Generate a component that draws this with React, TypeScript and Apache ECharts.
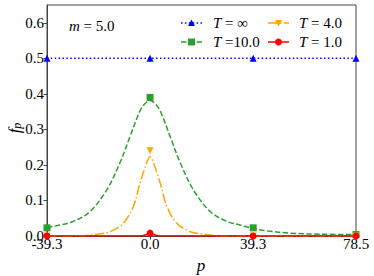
import React, { useEffect, useRef } from 'react';
import * as echarts from 'echarts';

const xTicks = [-39.3, 0, 39.3, 78.5];

const greenP = [-39.3, -38.2, -34.3, -29.3, -22.9, -16.5, -11.5, -7.6, -3.85, -2, 0, 2, 3.85, 7.6, 11.5, 16.5, 22.9, 29.3, 34.3, 39.3, 45, 53.3, 65, 78.5];
const greenF = [0.023, 0.025, 0.031, 0.041, 0.069, 0.13, 0.206, 0.281, 0.352, 0.372, 0.381, 0.372, 0.352, 0.281, 0.206, 0.13, 0.069, 0.041, 0.031, 0.021, 0.014, 0.008, 0.005, 0.004];

const orangeP = [-39.3, -30, -25, -20.4, -15.3, -10.2, -6.4, -3.85, -1.94, 0, 1.94, 3.85, 6.4, 10.2, 15.3, 20.4, 25, 30, 39.3, 78.5];
const orangeF = [0, 0, 0.001, 0.005, 0.012, 0.036, 0.083, 0.149, 0.192, 0.223, 0.192, 0.149, 0.083, 0.036, 0.012, 0.005, 0.001, 0, 0, 0];

const redP = [-39.3, -5, -3, -1.5, 0, 1.5, 3, 5, 78.5];
const redF = [0, 0, 0.001, 0.004, 0.007, 0.004, 0.001, 0, 0];

const blueP = [-39.3, 78.5];
const blueF = [0.5, 0.5];

const blueM = [0.5, 0.5, 0.5, 0.5];
const greenM = [0.023, 0.39, 0.023, 0.004];
const orangeM = [0, 0.24, 0, 0];
const redM = [0, 0.008, 0, 0];

const BLUE = '#0000ff';
const GREEN = '#2ca02c';
const ORANGE = '#ffa500';
const RED = '#ff0000';
const FONT = "'Liberation Serif', 'Times New Roman', 'DejaVu Serif', serif";
const FS = 15;

const zip = (a: number[], b: number[]) => a.map((v, i) => [v, b[i]]);

export default function App() {
  const ref = useRef<HTMLDivElement>(null);
  useEffect(() => {
    if (!ref.current) return;
    const chart = echarts.init(ref.current, undefined, { renderer: 'svg' });
    const lineSeries = (name: string, p: number[], f: number[], color: string, type: any, width = 1.5) => ({
      name,
      type: 'line',
      data: zip(p, f),
      showSymbol: false,
      symbol: 'none',
      smooth: 0.35,
      lineStyle: { color, width, type },
      silent: true,
      z: 2,
    });
    const markerSeries = (name: string, m: number[], color: string, symbol: string, size: number, rot = 0) => ({
      name,
      type: 'scatter',
      data: zip(xTicks, m),
      symbol,
      symbolSize: size,
      symbolRotate: rot,
      itemStyle: { color, opacity: 1 },
      silent: true,
      z: 3,
    });
    const legendText = (x: number, y: number, tail: string) => ({
      type: 'text',
      x,
      y,
      style: {
        text: '{i|T}{n|' + tail + '}',
        verticalAlign: 'middle',
        rich: {
          i: { fontFamily: FONT, fontSize: FS, fontStyle: 'italic', fill: '#000' },
          n: { fontFamily: FONT, fontSize: FS, fill: '#000' },
        },
      },
    });
    const legendLine = (x: number, y: number, color: string, dash: any) => ({
      type: 'line',
      shape: { x1: x, y1: y, x2: x + 21, y2: y },
      style: { stroke: color, lineWidth: 1.5, lineDash: dash },
    });
    chart.setOption({
      animation: false,
      textStyle: { fontFamily: FONT },
      grid: { left: 47, right: 18, top: 5, bottom: 40, show: true, borderColor: '#444', borderWidth: 1 },
      xAxis: {
        type: 'value',
        min: -39.3,
        max: 78.5,
        interval: 39.3,
        axisLine: { show: true, onZero: false, lineStyle: { color: '#444', width: 1 } },
        axisTick: { show: true, inside: false, length: 3.5, lineStyle: { color: '#444' } },
        splitLine: { show: false },
        axisLabel: {
          margin: 0,
          color: '#000',
          fontFamily: FONT,
          fontSize: FS,
          formatter: (v: number) => v.toFixed(1),
        },
      },
      yAxis: {
        type: 'value',
        min: 0,
        max: 0.65,
        interval: 0.1,
        axisLine: { show: true, onZero: false, lineStyle: { color: '#444', width: 1 } },
        axisTick: { show: true, inside: false, length: 3.5, lineStyle: { color: '#444' } },
        splitLine: { show: false },
        axisLabel: {
          margin: 3,
          color: '#000',
          fontFamily: FONT,
          fontSize: FS,
          showMaxLabel: false,
          formatter: (v: number) => v.toFixed(1),
        },
      },
      series: [
        lineSeries('T=inf', blueP, blueF, BLUE, [1.5, 2.4]),
        markerSeries('T=inf m', blueM, BLUE, 'triangle', 7),
        lineSeries('T=10', greenP, greenF, GREEN, [5.5, 2.4]),
        markerSeries('T=10 m', greenM, GREEN, 'rect', 7),
        lineSeries('T=4', orangeP, orangeF, ORANGE, [9.6, 2.4, 1.5, 2.4]),
        markerSeries('T=4 m', orangeM, ORANGE, 'triangle', 7, 180),
        lineSeries('T=1', redP, redF, RED, 'solid'),
        markerSeries('T=1 m', redM, RED, 'circle', 7),
      ],
      graphic: [
        {
          type: 'text',
          x: 69,
          y: 26,
          style: {
            text: '{i|m}{n| = 5.0}',
            verticalAlign: 'middle',
            rich: {
              i: { fontFamily: FONT, fontSize: FS, fontStyle: 'italic', fill: '#000' },
              n: { fontFamily: FONT, fontSize: FS, fill: '#000' },
            },
          },
        },
        legendLine(181, 23, BLUE, [1.5, 2.4]),
        { type: 'polygon', shape: { points: [[191.5, 19.5], [195, 26], [188, 26]] }, style: { fill: BLUE } },
        legendText(213, 23, ' = ∞'),
        legendLine(181, 42, GREEN, [5.5, 2.4]),
        { type: 'rect', shape: { x: 188, y: 38.5, width: 7, height: 7 }, style: { fill: GREEN } },
        legendText(213, 42, ' =10.0'),
        legendLine(268, 23, ORANGE, [9.6, 2.4, 1.5, 2.4]),
        { type: 'polygon', shape: { points: [[275, 20], [282, 20], [278.5, 26.5]] }, style: { fill: ORANGE } },
        legendText(299, 23, ' = 4.0'),
        legendLine(268, 42, RED, null),
        { type: 'circle', shape: { cx: 278.5, cy: 42, r: 3.5 }, style: { fill: RED } },
        legendText(299, 42, ' = 1.0'),
        {
          type: 'text',
          x: 14,
          y: 128,
          rotation: Math.PI / 2,
          style: {
            text: '{i|f}{s|p}',
            align: 'center',
            verticalAlign: 'middle',
            rich: {
              i: { fontFamily: FONT, fontSize: 17, fontStyle: 'italic', fill: '#000' },
              s: { fontFamily: FONT, fontSize: 12, fontStyle: 'italic', fill: '#000', padding: [6, 0, 0, 0] },
            },
          },
        },
        {
          type: 'text',
          x: 201,
          y: 265,
          style: {
            text: 'p',
            align: 'center',
            verticalAlign: 'middle',
            fontFamily: FONT,
            fontSize: 17,
            fontStyle: 'italic',
            fill: '#000',
          },
        },
      ],
    });
    return () => chart.dispose();
  }, []);
  return <div ref={ref} style={{ width: 374, height: 276, position: 'absolute', left: 0, top: 0 }} />;
}
